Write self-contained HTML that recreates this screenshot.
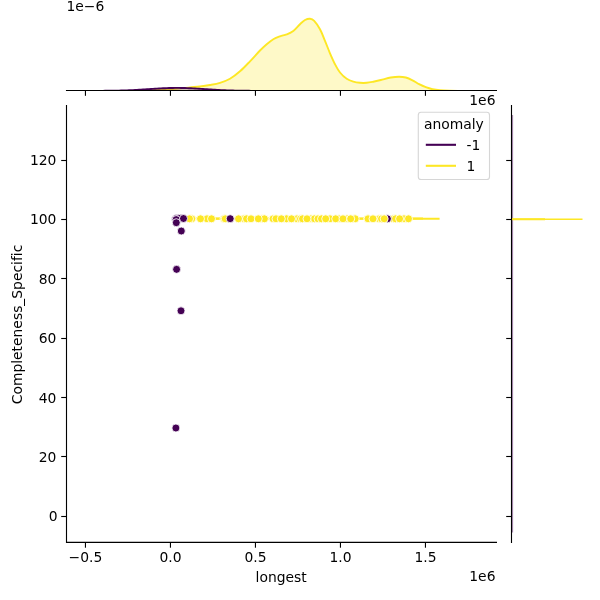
<!DOCTYPE html>
<html><head><meta charset="utf-8"><title>jointplot</title>
<style>html,body{margin:0;padding:0;background:#fff}svg{display:block}text{font-variant-ligatures:none;font-feature-settings:"liga" 0,"clig" 0;font-kerning:none}</style></head>
<body>
<svg width="600" height="600" viewBox="0 0 600 600" font-family="'DejaVu Sans', 'Liberation Sans', sans-serif" font-size="13.889" fill="#000">
<rect width="600" height="600" fill="#fff"/>
<defs><clipPath id="ct"><rect x="66.50" y="0" width="430.50" height="90.90"/></clipPath><clipPath id="cr"><rect x="511.50" y="105.00" width="100" height="437.40"/></clipPath><clipPath id="cj"><rect x="66.50" y="105.00" width="430.50" height="437.40"/></clipPath></defs>
<g clip-path="url(#ct)">
<path d="M130.00 90.90 C131.67 90.87 136.67 90.80 140.00 90.70 C143.33 90.60 146.67 90.45 150.00 90.30 C153.33 90.15 156.67 89.98 160.00 89.80 C163.33 89.62 166.67 89.43 170.00 89.20 C173.33 88.97 176.67 88.70 180.00 88.40 C183.33 88.10 186.67 87.72 190.00 87.40 C193.33 87.08 196.67 86.90 200.00 86.50 C203.33 86.10 206.67 85.62 210.00 85.00 C213.33 84.38 216.67 83.83 220.00 82.80 C223.33 81.77 226.67 80.72 230.00 78.80 C233.33 76.88 236.67 74.22 240.00 71.30 C243.33 68.38 246.67 64.77 250.00 61.30 C253.33 57.83 257.22 53.35 260.00 50.50 C262.78 47.65 264.48 46.08 266.70 44.20 C268.92 42.32 271.08 40.52 273.30 39.20 C275.52 37.88 277.77 37.10 280.00 36.30 C282.23 35.50 284.48 35.28 286.70 34.40 C288.92 33.52 291.08 32.70 293.30 31.00 C295.52 29.30 298.05 26.03 300.00 24.20 C301.95 22.37 303.33 20.92 305.00 20.00 C306.67 19.08 308.47 18.57 310.00 18.70 C311.53 18.83 312.53 19.05 314.20 20.80 C315.87 22.55 318.20 25.87 320.00 29.20 C321.80 32.53 323.33 36.78 325.00 40.80 C326.67 44.82 328.33 49.40 330.00 53.30 C331.67 57.20 333.33 61.00 335.00 64.20 C336.67 67.40 338.05 70.07 340.00 72.50 C341.95 74.93 344.48 77.27 346.70 78.80 C348.92 80.33 351.08 81.03 353.30 81.70 C355.52 82.37 357.77 82.62 360.00 82.80 C362.23 82.98 364.48 82.98 366.70 82.80 C368.92 82.62 370.95 82.17 373.30 81.70 C375.65 81.23 377.88 80.70 380.80 80.00 C383.72 79.30 387.75 78.05 390.80 77.50 C393.85 76.95 396.60 76.70 399.10 76.70 C401.60 76.70 403.57 76.90 405.80 77.50 C408.03 78.10 410.28 79.18 412.50 80.30 C414.72 81.42 416.88 83.05 419.10 84.20 C421.32 85.35 423.57 86.37 425.80 87.20 C428.03 88.03 430.13 88.68 432.50 89.20 C434.87 89.72 437.08 90.03 440.00 90.30 C442.92 90.57 446.67 90.70 450.00 90.80 C453.33 90.90 458.33 90.88 460.00 90.90 L460 90.90 L130 90.90 Z" fill="#fde725" fill-opacity="0.25"/>
<path d="M130.00 90.90 C131.67 90.87 136.67 90.80 140.00 90.70 C143.33 90.60 146.67 90.45 150.00 90.30 C153.33 90.15 156.67 89.98 160.00 89.80 C163.33 89.62 166.67 89.43 170.00 89.20 C173.33 88.97 176.67 88.70 180.00 88.40 C183.33 88.10 186.67 87.72 190.00 87.40 C193.33 87.08 196.67 86.90 200.00 86.50 C203.33 86.10 206.67 85.62 210.00 85.00 C213.33 84.38 216.67 83.83 220.00 82.80 C223.33 81.77 226.67 80.72 230.00 78.80 C233.33 76.88 236.67 74.22 240.00 71.30 C243.33 68.38 246.67 64.77 250.00 61.30 C253.33 57.83 257.22 53.35 260.00 50.50 C262.78 47.65 264.48 46.08 266.70 44.20 C268.92 42.32 271.08 40.52 273.30 39.20 C275.52 37.88 277.77 37.10 280.00 36.30 C282.23 35.50 284.48 35.28 286.70 34.40 C288.92 33.52 291.08 32.70 293.30 31.00 C295.52 29.30 298.05 26.03 300.00 24.20 C301.95 22.37 303.33 20.92 305.00 20.00 C306.67 19.08 308.47 18.57 310.00 18.70 C311.53 18.83 312.53 19.05 314.20 20.80 C315.87 22.55 318.20 25.87 320.00 29.20 C321.80 32.53 323.33 36.78 325.00 40.80 C326.67 44.82 328.33 49.40 330.00 53.30 C331.67 57.20 333.33 61.00 335.00 64.20 C336.67 67.40 338.05 70.07 340.00 72.50 C341.95 74.93 344.48 77.27 346.70 78.80 C348.92 80.33 351.08 81.03 353.30 81.70 C355.52 82.37 357.77 82.62 360.00 82.80 C362.23 82.98 364.48 82.98 366.70 82.80 C368.92 82.62 370.95 82.17 373.30 81.70 C375.65 81.23 377.88 80.70 380.80 80.00 C383.72 79.30 387.75 78.05 390.80 77.50 C393.85 76.95 396.60 76.70 399.10 76.70 C401.60 76.70 403.57 76.90 405.80 77.50 C408.03 78.10 410.28 79.18 412.50 80.30 C414.72 81.42 416.88 83.05 419.10 84.20 C421.32 85.35 423.57 86.37 425.80 87.20 C428.03 88.03 430.13 88.68 432.50 89.20 C434.87 89.72 437.08 90.03 440.00 90.30 C442.92 90.57 446.67 90.70 450.00 90.80 C453.33 90.90 458.33 90.88 460.00 90.90" fill="none" stroke="#fde725" stroke-width="1.9" stroke-linejoin="round"/>
<path d="M85.00 90.89 C85.67 90.89 87.67 90.89 89.00 90.89 C90.33 90.88 91.67 90.88 93.00 90.88 C94.33 90.87 95.67 90.87 97.00 90.86 C98.33 90.86 99.67 90.85 101.00 90.84 C102.33 90.83 103.67 90.83 105.00 90.81 C106.33 90.80 107.67 90.79 109.00 90.77 C110.33 90.76 111.67 90.74 113.00 90.72 C114.33 90.70 115.67 90.67 117.00 90.65 C118.33 90.62 119.67 90.59 121.00 90.55 C122.33 90.51 123.67 90.48 125.00 90.43 C126.33 90.39 127.67 90.34 129.00 90.28 C130.33 90.23 131.67 90.17 133.00 90.10 C134.33 90.04 135.67 89.97 137.00 89.90 C138.33 89.83 139.67 89.75 141.00 89.67 C142.33 89.59 143.67 89.50 145.00 89.41 C146.33 89.33 147.67 89.24 149.00 89.15 C150.33 89.06 151.67 88.97 153.00 88.88 C154.33 88.79 155.67 88.70 157.00 88.62 C158.33 88.54 159.67 88.46 161.00 88.38 C162.33 88.31 163.67 88.24 165.00 88.18 C166.33 88.12 167.67 88.07 169.00 88.03 C170.33 87.99 171.67 87.95 173.00 87.93 C174.33 87.91 175.67 87.90 177.00 87.90 C178.33 87.90 179.67 87.91 181.00 87.93 C182.33 87.95 183.67 87.99 185.00 88.03 C186.33 88.07 187.67 88.12 189.00 88.18 C190.33 88.24 191.67 88.31 193.00 88.38 C194.33 88.46 195.67 88.54 197.00 88.62 C198.33 88.70 199.67 88.79 201.00 88.88 C202.33 88.97 203.67 89.06 205.00 89.15 C206.33 89.24 207.67 89.33 209.00 89.41 C210.33 89.50 211.67 89.59 213.00 89.67 C214.33 89.75 215.67 89.83 217.00 89.90 C218.33 89.97 219.67 90.04 221.00 90.10 C222.33 90.17 223.67 90.23 225.00 90.28 C226.33 90.34 227.67 90.39 229.00 90.43 C230.33 90.48 231.67 90.51 233.00 90.55 C234.33 90.59 235.67 90.62 237.00 90.65 C238.33 90.67 239.67 90.70 241.00 90.72 C242.33 90.74 243.67 90.76 245.00 90.77 C246.33 90.79 247.67 90.80 249.00 90.81 C250.33 90.83 251.67 90.83 253.00 90.84 C254.33 90.85 255.67 90.86 257.00 90.86 C258.33 90.87 259.67 90.87 261.00 90.88 C262.33 90.88 264.33 90.88 265.00 90.89 L265 90.90 L85 90.90 Z" fill="#440154" fill-opacity="0.25"/>
<path d="M85.00 90.89 C85.67 90.89 87.67 90.89 89.00 90.89 C90.33 90.88 91.67 90.88 93.00 90.88 C94.33 90.87 95.67 90.87 97.00 90.86 C98.33 90.86 99.67 90.85 101.00 90.84 C102.33 90.83 103.67 90.83 105.00 90.81 C106.33 90.80 107.67 90.79 109.00 90.77 C110.33 90.76 111.67 90.74 113.00 90.72 C114.33 90.70 115.67 90.67 117.00 90.65 C118.33 90.62 119.67 90.59 121.00 90.55 C122.33 90.51 123.67 90.48 125.00 90.43 C126.33 90.39 127.67 90.34 129.00 90.28 C130.33 90.23 131.67 90.17 133.00 90.10 C134.33 90.04 135.67 89.97 137.00 89.90 C138.33 89.83 139.67 89.75 141.00 89.67 C142.33 89.59 143.67 89.50 145.00 89.41 C146.33 89.33 147.67 89.24 149.00 89.15 C150.33 89.06 151.67 88.97 153.00 88.88 C154.33 88.79 155.67 88.70 157.00 88.62 C158.33 88.54 159.67 88.46 161.00 88.38 C162.33 88.31 163.67 88.24 165.00 88.18 C166.33 88.12 167.67 88.07 169.00 88.03 C170.33 87.99 171.67 87.95 173.00 87.93 C174.33 87.91 175.67 87.90 177.00 87.90 C178.33 87.90 179.67 87.91 181.00 87.93 C182.33 87.95 183.67 87.99 185.00 88.03 C186.33 88.07 187.67 88.12 189.00 88.18 C190.33 88.24 191.67 88.31 193.00 88.38 C194.33 88.46 195.67 88.54 197.00 88.62 C198.33 88.70 199.67 88.79 201.00 88.88 C202.33 88.97 203.67 89.06 205.00 89.15 C206.33 89.24 207.67 89.33 209.00 89.41 C210.33 89.50 211.67 89.59 213.00 89.67 C214.33 89.75 215.67 89.83 217.00 89.90 C218.33 89.97 219.67 90.04 221.00 90.10 C222.33 90.17 223.67 90.23 225.00 90.28 C226.33 90.34 227.67 90.39 229.00 90.43 C230.33 90.48 231.67 90.51 233.00 90.55 C234.33 90.59 235.67 90.62 237.00 90.65 C238.33 90.67 239.67 90.70 241.00 90.72 C242.33 90.74 243.67 90.76 245.00 90.77 C246.33 90.79 247.67 90.80 249.00 90.81 C250.33 90.83 251.67 90.83 253.00 90.84 C254.33 90.85 255.67 90.86 257.00 90.86 C258.33 90.87 259.67 90.87 261.00 90.88 C262.33 90.88 264.33 90.88 265.00 90.89" fill="none" stroke="#440154" stroke-width="1.9" stroke-linejoin="round"/>
</g>
<g clip-path="url(#cr)">
<rect x="511.80" y="115" width="1.3" height="417.5" fill="#440154" fill-opacity="0.45"/>
<path d="M512.00 219.23 H582.5" stroke="#fde725" stroke-width="1.4" fill="none"/>
<path d="M512.00 219.23 H545" stroke="#fde725" stroke-width="2.1" fill="none"/>
</g>
<g clip-path="url(#cj)">
<path d="M172 218.80 H439.6" stroke="#fde725" stroke-width="2.0" fill="none"/>
<path d="M172 218.55 H423" stroke="#fde725" stroke-width="2.0" fill="none"/>
<circle cx="175.60" cy="218.90" r="4.0" fill="#440154" stroke="#fff" stroke-width="0.85"/>
<circle cx="177.00" cy="218.20" r="4.0" fill="#440154" stroke="#fff" stroke-width="0.85"/>
<circle cx="178.60" cy="218.80" r="4.0" fill="#440154" stroke="#fff" stroke-width="0.85"/>
<circle cx="180.20" cy="218.30" r="4.0" fill="#440154" stroke="#fff" stroke-width="0.85"/>
<circle cx="176.20" cy="219.60" r="4.0" fill="#440154" stroke="#fff" stroke-width="0.85"/>
<circle cx="191.80" cy="218.80" r="4.0" fill="#fde725" stroke="#fff" stroke-width="0.85"/>
<circle cx="207.00" cy="218.80" r="4.0" fill="#fde725" stroke="#fff" stroke-width="0.85"/>
<circle cx="224.00" cy="218.80" r="4.0" fill="#fde725" stroke="#fff" stroke-width="0.85"/>
<circle cx="244.00" cy="218.80" r="4.0" fill="#fde725" stroke="#fff" stroke-width="0.85"/>
<circle cx="246.50" cy="218.80" r="4.0" fill="#fde725" stroke="#fff" stroke-width="0.85"/>
<circle cx="262.00" cy="218.80" r="4.0" fill="#fde725" stroke="#fff" stroke-width="0.85"/>
<circle cx="264.40" cy="218.80" r="4.0" fill="#fde725" stroke="#fff" stroke-width="0.85"/>
<circle cx="273.10" cy="218.80" r="4.0" fill="#fde725" stroke="#fff" stroke-width="0.85"/>
<circle cx="286.50" cy="218.80" r="4.0" fill="#fde725" stroke="#fff" stroke-width="0.85"/>
<circle cx="297.00" cy="218.80" r="4.0" fill="#fde725" stroke="#fff" stroke-width="0.85"/>
<circle cx="300.50" cy="218.80" r="4.0" fill="#fde725" stroke="#fff" stroke-width="0.85"/>
<circle cx="311.00" cy="218.80" r="4.0" fill="#fde725" stroke="#fff" stroke-width="0.85"/>
<circle cx="314.50" cy="218.80" r="4.0" fill="#fde725" stroke="#fff" stroke-width="0.85"/>
<circle cx="318.00" cy="218.80" r="4.0" fill="#fde725" stroke="#fff" stroke-width="0.85"/>
<circle cx="321.50" cy="218.80" r="4.0" fill="#fde725" stroke="#fff" stroke-width="0.85"/>
<circle cx="330.00" cy="218.80" r="4.0" fill="#fde725" stroke="#fff" stroke-width="0.85"/>
<circle cx="339.00" cy="218.80" r="4.0" fill="#fde725" stroke="#fff" stroke-width="0.85"/>
<circle cx="347.00" cy="218.80" r="4.0" fill="#fde725" stroke="#fff" stroke-width="0.85"/>
<circle cx="354.00" cy="218.80" r="4.0" fill="#fde725" stroke="#fff" stroke-width="0.85"/>
<circle cx="355.20" cy="218.80" r="4.0" fill="#fde725" stroke="#fff" stroke-width="0.85"/>
<circle cx="367.80" cy="218.80" r="4.0" fill="#fde725" stroke="#fff" stroke-width="0.85"/>
<circle cx="379.00" cy="218.80" r="4.0" fill="#fde725" stroke="#fff" stroke-width="0.85"/>
<circle cx="381.50" cy="218.80" r="4.0" fill="#fde725" stroke="#fff" stroke-width="0.85"/>
<circle cx="393.30" cy="218.80" r="4.0" fill="#fde725" stroke="#fff" stroke-width="0.85"/>
<circle cx="395.50" cy="218.80" r="4.0" fill="#fde725" stroke="#fff" stroke-width="0.85"/>
<circle cx="404.00" cy="218.80" r="4.0" fill="#fde725" stroke="#fff" stroke-width="0.85"/>
<circle cx="387.40" cy="218.80" r="4.0" fill="#440154" stroke="#fff" stroke-width="0.85"/>
<circle cx="189.50" cy="218.80" r="4.0" fill="#fde725" stroke="#fff" stroke-width="0.85"/>
<circle cx="200.50" cy="218.80" r="4.0" fill="#fde725" stroke="#fff" stroke-width="0.85"/>
<circle cx="211.50" cy="218.80" r="4.0" fill="#fde725" stroke="#fff" stroke-width="0.85"/>
<circle cx="225.20" cy="218.80" r="4.0" fill="#fde725" stroke="#fff" stroke-width="0.85"/>
<circle cx="238.50" cy="218.80" r="4.0" fill="#fde725" stroke="#fff" stroke-width="0.85"/>
<circle cx="251.00" cy="218.80" r="4.0" fill="#fde725" stroke="#fff" stroke-width="0.85"/>
<circle cx="258.30" cy="218.80" r="4.0" fill="#fde725" stroke="#fff" stroke-width="0.85"/>
<circle cx="276.00" cy="218.80" r="4.0" fill="#fde725" stroke="#fff" stroke-width="0.85"/>
<circle cx="281.30" cy="218.80" r="4.0" fill="#fde725" stroke="#fff" stroke-width="0.85"/>
<circle cx="291.50" cy="218.80" r="4.0" fill="#fde725" stroke="#fff" stroke-width="0.85"/>
<circle cx="302.50" cy="218.80" r="4.0" fill="#fde725" stroke="#fff" stroke-width="0.85"/>
<circle cx="307.00" cy="218.80" r="4.0" fill="#fde725" stroke="#fff" stroke-width="0.85"/>
<circle cx="325.70" cy="218.80" r="4.0" fill="#fde725" stroke="#fff" stroke-width="0.85"/>
<circle cx="335.70" cy="218.80" r="4.0" fill="#fde725" stroke="#fff" stroke-width="0.85"/>
<circle cx="343.00" cy="218.80" r="4.0" fill="#fde725" stroke="#fff" stroke-width="0.85"/>
<circle cx="350.70" cy="218.80" r="4.0" fill="#fde725" stroke="#fff" stroke-width="0.85"/>
<circle cx="368.00" cy="218.80" r="4.0" fill="#fde725" stroke="#fff" stroke-width="0.85"/>
<circle cx="373.00" cy="218.80" r="4.0" fill="#fde725" stroke="#fff" stroke-width="0.85"/>
<circle cx="384.20" cy="218.80" r="4.0" fill="#fde725" stroke="#fff" stroke-width="0.85"/>
<circle cx="399.60" cy="218.80" r="4.0" fill="#fde725" stroke="#fff" stroke-width="0.85"/>
<circle cx="408.50" cy="218.80" r="4.0" fill="#fde725" stroke="#fff" stroke-width="0.85"/>
<circle cx="183.50" cy="218.50" r="4.0" fill="#440154" stroke="#fff" stroke-width="0.85"/>
<circle cx="176.30" cy="222.70" r="4.0" fill="#440154" stroke="#fff" stroke-width="0.85"/>
<circle cx="181.30" cy="231.00" r="4.0" fill="#440154" stroke="#fff" stroke-width="0.85"/>
<circle cx="230.20" cy="218.70" r="4.0" fill="#440154" stroke="#fff" stroke-width="0.85"/>
<circle cx="176.60" cy="269.35" r="4.0" fill="#440154" stroke="#fff" stroke-width="0.85"/>
<circle cx="181.00" cy="310.80" r="4.0" fill="#440154" stroke="#fff" stroke-width="0.85"/>
<circle cx="175.90" cy="428.00" r="4.0" fill="#440154" stroke="#fff" stroke-width="0.85"/>
</g>
<g stroke="#000" stroke-width="1.11" fill="none" stroke-linejoin="miter">
<path d="M66.50 105.00 V542.40 H497.00"/>
<path d="M65.95 90.50 H497.00"/>
<path d="M511.50 105.00 V542.95"/>
</g>
<g stroke="#000" stroke-width="1.11" fill="none">
<path d="M85.45 542.40 v5.3"/>
<path d="M85.45 90.50 v5.3"/>
<path d="M170.45 542.40 v5.3"/>
<path d="M170.45 90.50 v5.3"/>
<path d="M255.45 542.40 v5.3"/>
<path d="M255.45 90.50 v5.3"/>
<path d="M340.45 542.40 v5.3"/>
<path d="M340.45 90.50 v5.3"/>
<path d="M425.45 542.40 v5.3"/>
<path d="M425.45 90.50 v5.3"/>
<path d="M66.50 516.50 h-5.3"/>
<path d="M511.50 516.50 h-5.3"/>
<path d="M66.50 456.50 h-5.3"/>
<path d="M511.50 456.50 h-5.3"/>
<path d="M66.50 397.50 h-5.3"/>
<path d="M511.50 397.50 h-5.3"/>
<path d="M66.50 338.50 h-5.3"/>
<path d="M511.50 338.50 h-5.3"/>
<path d="M66.50 278.50 h-5.3"/>
<path d="M511.50 278.50 h-5.3"/>
<path d="M66.50 219.50 h-5.3"/>
<path d="M511.50 219.50 h-5.3"/>
<path d="M66.50 160.50 h-5.3"/>
<path d="M511.50 160.50 h-5.3"/>
</g>
<text x="85.45" y="561.7" text-anchor="middle">−0.5</text>
<text x="170.45" y="561.7" text-anchor="middle">0.0</text>
<text x="255.45" y="561.7" text-anchor="middle">0.5</text>
<text x="340.45" y="561.7" text-anchor="middle">1.0</text>
<text x="425.45" y="561.7" text-anchor="middle">1.5</text>
<text x="57.6" y="521" text-anchor="end">0</text>
<text x="56.4" y="462" text-anchor="end">20</text>
<text x="56.4" y="403" text-anchor="end">40</text>
<text x="56.4" y="343" text-anchor="end">60</text>
<text x="56.4" y="284" text-anchor="end">80</text>
<text x="56.4" y="224" text-anchor="end">100</text>
<text x="56.4" y="165" text-anchor="end">120</text>
<text x="281.2" y="581.6" text-anchor="middle">longest</text>
<text x="495.5" y="580.7" text-anchor="end">1e6</text>
<text x="495.5" y="104.6" text-anchor="end">1e6</text>
<text x="66.5" y="10.9">1e−6</text>
<text transform="translate(22.1 324.5) rotate(-90)" text-anchor="middle">Completeness_Specific</text>
<rect x="418.3" y="112.3" width="71.2" height="67.2" rx="2.8" fill="#fff" fill-opacity="0.8" stroke="#ccc" stroke-opacity="0.8" stroke-width="1.11"/>
<text x="453.9" y="128.7" text-anchor="middle">anomaly</text>
<path d="M425.8 144.8 H456" stroke="#440154" stroke-width="2.08"/>
<path d="M425.8 165.8 H456" stroke="#fde725" stroke-width="2.08"/>
<text x="466.4" y="149.7">-1</text>
<text x="466.4" y="170.6">1</text>
</svg>
</body></html>
